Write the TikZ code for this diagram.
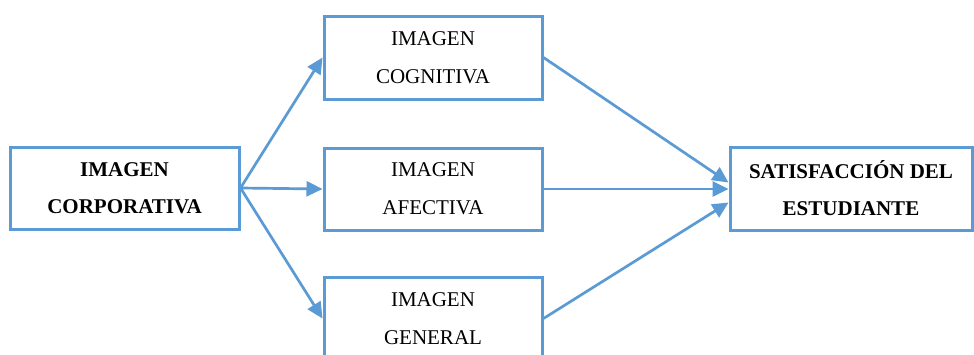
\documentclass[tikz,border=0pt]{standalone}
\usepackage{fontspec}
\setmainfont{Liberation Serif}
\usetikzlibrary{arrows.meta}
\definecolor{boxblue}{HTML}{5B9BD5}
\tikzset{
  box/.style={draw=boxblue, line width=3pt, fill=white, align=center,
    font=\fontsize{21}{38}\selectfont, inner sep=0pt},
  conn/.style={draw=boxblue, line width=2.7pt,
    -{Triangle[length=16pt,width=15pt]}}
}
\begin{document}
\begin{tikzpicture}[x=1pt,y=-1pt]
\clip (0,0) rectangle (974,354);
\fill[white] (0,0) rectangle (974,354);
\node[box, minimum width=229pt, minimum height=82pt, font=\fontsize{21}{37}\selectfont\bfseries] (corp) at (124.5,188) {IMAGEN\\CORPORATIVA};
\node[box, minimum width=218pt, minimum height=83pt] (cog) at (433,57.5) {IMAGEN\\COGNITIVA};
\node[box, minimum width=218pt, minimum height=82pt] (afe) at (433,189) {IMAGEN\\AFECTIVA};
\node[box, minimum width=218pt, minimum height=83pt] (gen) at (433,318.5) {IMAGEN\\GENERAL};
\node[box, minimum width=242pt, minimum height=83pt, font=\fontsize{21}{37}\selectfont\bfseries] (sat) at (851,188.5) {SATISFACCIÓN DEL\\ESTUDIANTE};
\draw[conn] (corp.east) -- (cog.west);
\draw[conn] (corp.east) -- (afe.west);
\draw[conn] (corp.east) -- (gen.west);
\draw[conn] (cog.east) -- ([yshift=6pt]sat.west);
\draw[conn] (afe.east) -- (afe.east -| sat.west);
\draw[conn] (gen.east) -- ([yshift=-14pt]sat.west);
\end{tikzpicture}
\end{document}
